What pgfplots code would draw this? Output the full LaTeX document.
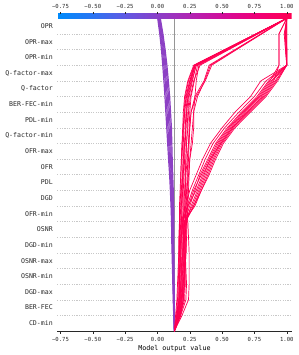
\documentclass[border=0pt]{standalone}
\usepackage{pgfplots}
\usepackage{pgfplotstable}
\usepackage{fontspec}
\setmainfont{DejaVu Sans Mono}
\setmonofont{DejaVu Sans Mono}
\pgfplotsset{compat=1.18}
\definecolor{shapred}{RGB}{255,0,82}
\definecolor{shappurple}{RGB}{140,64,196}
\definecolor{basegray}{RGB}{150,150,150}
\definecolor{gridgray}{RGB}{200,200,200}
\definecolor{txt}{RGB}{40,40,40}
\pgfplotsset{colormap={shapcm}{rgb255=(0,139,251) rgb255=(40,118,243) rgb255=(95,90,228) rgb255=(138,62,200) rgb255=(178,36,178) rgb255=(212,12,152) rgb255=(240,0,118) rgb255=(255,0,82)}}

\pgfplotstableread{
k  P1    P2    P3    P4    P5
0  0.131 0.131 0.131 0.131 0.131
1  0.126 0.127 0.128 0.129 0.130
2  0.122 0.124 0.126 0.128 0.130
3  0.119 0.122 0.124 0.127 0.129
4  0.116 0.119 0.122 0.125 0.128
5  0.113 0.117 0.120 0.124 0.127
6  0.110 0.114 0.118 0.122 0.126
7  0.109 0.114 0.118 0.123 0.127
8  0.105 0.110 0.115 0.120 0.125
9  0.100 0.106 0.111 0.117 0.122
10 0.094 0.100 0.106 0.112 0.118
11 0.086 0.093 0.100 0.107 0.114
12 0.079 0.087 0.095 0.103 0.111
13 0.072 0.081 0.090 0.099 0.108
14 0.065 0.074 0.083 0.092 0.101
15 0.058 0.067 0.076 0.085 0.094
16 0.050 0.059 0.067 0.076 0.084
17 0.041 0.049 0.057 0.065 0.073
18 0.031 0.038 0.045 0.052 0.059
19 0.018 0.024 0.030 0.036 0.042
20 0.002 0.007 0.012 0.017 0.022
}\purpletab

\pgfplotstableread{
k  L1    L2    L3    L4    L5    L6    L7    L8    L9    L10   L11   L12   L13   L14
0  0.131 0.131 0.131 0.131 0.131 0.131 0.131 0.131 0.131 0.131 0.131 0.131 0.131 0.131
1  0.15  0.16  0.14  0.17  0.15  0.18  0.155 0.17  0.16  0.145 0.19  0.165 0.155 0.175
2  0.16  0.18  0.15  0.20  0.17  0.22  0.165 0.19  0.175 0.155 0.24  0.19  0.175 0.20
3  0.16  0.185 0.155 0.205 0.175 0.225 0.17  0.20  0.18  0.16  0.245 0.195 0.18  0.21
4  0.165 0.18  0.16  0.21  0.175 0.22  0.17  0.21  0.185 0.165 0.245 0.20  0.19  0.215
5  0.17  0.18  0.165 0.205 0.17  0.215 0.175 0.22  0.19  0.165 0.245 0.205 0.195 0.22
6  0.17  0.185 0.17  0.20  0.175 0.21  0.18  0.225 0.19  0.165 0.24  0.21  0.20  0.22
7  0.175 0.19  0.17  0.20  0.18  0.215 0.185 0.23  0.195 0.17  0.235 0.215 0.205 0.225
8  0.18  0.19  0.175 0.205 0.185 0.22  0.19  0.235 0.20  0.17  0.22  0.22  0.21  0.23
9  0.185 0.195 0.18  0.21  0.19  0.225 0.19  0.24  0.20  0.175 0.215 0.23  0.215 0.235
10 0.19  0.20  0.18  0.215 0.195 0.23  0.195 0.245 0.205 0.18  0.215 0.235 0.22  0.24
11 0.19  0.205 0.185 0.22  0.20  0.235 0.20  0.25  0.21  0.185 0.22  0.24  0.23  0.25
12 0.195 0.21  0.19  0.225 0.20  0.24  0.21  0.27  0.215 0.19  0.225 0.245 0.24  0.26
13 0.20  0.215 0.195 0.23  0.205 0.245 0.22  0.28  0.22  0.20  0.235 0.25  0.25  0.27
14 0.205 0.22  0.20  0.235 0.21  0.25  0.225 0.28  0.225 0.21  0.24  0.26  0.26  0.28
15 0.215 0.23  0.21  0.245 0.22  0.26  0.24  0.29  0.235 0.225 0.255 0.29  0.30  0.31
16 0.24  0.255 0.235 0.27  0.25  0.285 0.265 0.30  0.26  0.25  0.28  0.36  0.37  0.365
17 0.285 0.29  0.28  0.30  0.295 0.31  0.30  0.32  0.29  0.285 0.33  0.40  0.42  0.41
18 0.523 0.527 0.52  0.533 0.53  0.54  0.533 0.547 0.527 0.523 0.553 0.60  0.613 0.607
19 0.762 0.763 0.76  0.767 0.765 0.77  0.767 0.773 0.763 0.762 0.777 0.80  0.807 0.803
20 1.0   1.0   1.0   1.0   1.0   1.0   1.0   1.0   1.0   1.0   1.0   1.0   1.0   1.0
}\lefttab

\pgfplotstableread{
k  R1    R2    R3    R4    R5    R6    R7    R8    R9    R10
0  0.131 0.131 0.131 0.131 0.131 0.131 0.131 0.131 0.131 0.131
1  0.15  0.16  0.17  0.155 0.18  0.165 0.17  0.175 0.16  0.15
2  0.17  0.18  0.19  0.175 0.20  0.19  0.20  0.21  0.185 0.165
3  0.17  0.19  0.195 0.18  0.21  0.20  0.205 0.215 0.19  0.17
4  0.175 0.19  0.20  0.185 0.21  0.205 0.21  0.215 0.195 0.175
5  0.18  0.195 0.20  0.19  0.215 0.21  0.21  0.22  0.20  0.18
6  0.18  0.20  0.205 0.19  0.215 0.21  0.215 0.22  0.20  0.185
7  0.185 0.20  0.21  0.195 0.22  0.21  0.215 0.22  0.205 0.19
8  0.22  0.23  0.25  0.24  0.26  0.27  0.28  0.28  0.29  0.235
9  0.25  0.27  0.29  0.28  0.31  0.32  0.33  0.34  0.34  0.30
10 0.30  0.32  0.33  0.34  0.36  0.37  0.38  0.39  0.40  0.35
11 0.35  0.37  0.39  0.40  0.41  0.42  0.43  0.44  0.45  0.41
12 0.41  0.43  0.45  0.46  0.47  0.48  0.49  0.50  0.51  0.49
13 0.50  0.52  0.54  0.55  0.56  0.57  0.58  0.59  0.60  0.58
14 0.60  0.63  0.65  0.66  0.67  0.68  0.70  0.71  0.72  0.69
15 0.72  0.75  0.77  0.78  0.79  0.80  0.81  0.83  0.84  0.82
16 0.80  0.84  0.86  0.87  0.88  0.89  0.90  0.92  0.93  0.91
17 1.0   1.0   1.0   0.94  1.0   1.0   0.94  1.0   1.0   1.0
18 1.0   0.99  1.0   0.94  0.995 1.0   0.94  0.99  1.0   1.0
19 0.99  0.98  0.985 0.94  0.99  1.0   0.94  0.985 0.995 1.0
20 1.0   1.0   1.0   1.0   1.0   1.0   1.0   1.0   1.0   1.0
}\righttab

\begin{document}
\begin{tikzpicture}
\begin{axis}[
  name=main, at={(0,0)}, anchor=south west,
  scale only axis, width=234.5bp, height=313bp,
  xmin=-0.775, xmax=1.037, ymin=0, ymax=20,
  axis x line*=bottom, axis y line*=left,
  x axis line style={-, draw=txt, line width=0.6bp},
  y axis line style={draw=none},
  xtick={-0.75,-0.5,-0.25,0,0.25,0.5,0.75,1},
  xticklabels={−0.75,−0.50,−0.25,0.00,0.25,0.50,0.75,1.00},
  xtick pos=left, tick align=outside,
  major tick length=2.5bp,
  xtick style={draw=txt, line width=0.5bp},
  xticklabel style={font=\fontsize{5.6}{6}\selectfont, text=txt},
  xlabel={Model output value},
  xlabel style={font=\fontsize{6.7}{8}\selectfont, text=black, yshift=3bp},
  ytick={0.5,1.5,2.5,3.5,4.5,5.5,6.5,7.5,8.5,9.5,10.5,11.5,12.5,13.5,14.5,15.5,16.5,17.5,18.5,19.5},
  yticklabels={CD-min,BER-FEC,DGD-max,OSNR-min,OSNR-max,DGD-min,OSNR,OFR-min,DGD,PDL,OFR,OFR-max,Q-factor-min,PDL-min,BER-FEC-min,Q-factor,Q-factor-max,OPR-min,OPR-max,OPR},
  ytick style={draw=none},
  yticklabel style={font=\fontsize{6.6}{7}\selectfont, text=txt, xshift=1.5bp},
  extra y ticks={1,2,3,4,5,6,7,8,9,10,11,12,13,14,15,16,17,18,19},
  extra y tick labels={},
  extra y tick style={grid=major, tick style={draw=none}},
  major grid style={draw=gridgray, line width=0.4bp, dash pattern=on 1.2bp off 1.2bp},
  colorbar horizontal,
  colormap name=shapcm,
  point meta min=-0.775, point meta max=1.037,
  colorbar style={
    at={(0,1)}, anchor=south west,
    scale only axis, width=234.5bp, height=4.3bp,
    xtick={-0.75,-0.5,-0.25,0,0.25,0.5,0.75,1},
    xticklabels={−0.75,−0.50,−0.25,0.00,0.25,0.50,0.75,1.00},
    xtick pos=right, xticklabel pos=right,
    tick align=outside, major tick length=2bp,
    xtick style={draw=txt, line width=0.5bp},
    xticklabel style={font=\fontsize{5.6}{6}\selectfont, text=txt},
    axis line style={draw=none},
    ytick=\empty,
  },
]
\addplot[basegray, line width=0.7bp] coordinates {(0.131,0) (0.131,20)};
\pgfplotsinvokeforeach{1,...,5}{\addplot[shappurple, line width=1.2bp, line join=round] table[x=P#1, y=k]{\purpletab};}
\pgfplotsinvokeforeach{1,...,14}{\addplot[shapred, line width=0.7bp, line join=round] table[x=L#1, y=k]{\lefttab};}
\pgfplotsinvokeforeach{1,...,10}{\addplot[shapred, line width=0.7bp, line join=round] table[x=R#1, y=k]{\righttab};}
\end{axis}
\pgfresetboundingbox
\path[use as bounding box] ([shift={(-57.3bp,-24bp)}]main.south west) rectangle ([shift={(7.3bp,18.3bp)}]main.north east);
\end{tikzpicture}
\end{document}
